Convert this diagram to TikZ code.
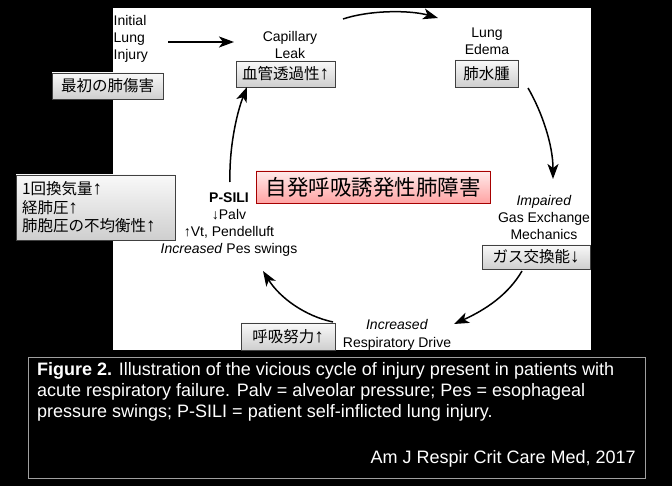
\documentclass[tikz,border=0pt]{standalone}
\usepackage{fontspec}
\setmainfont{Liberation Sans}
\newfontfamily\jp{Noto Sans CJK JP}
\usetikzlibrary{arrows.meta}

% narrow arrows set in the Latin font next to Japanese text
\newcommand\jup{{\rmfamily\fontsize{19}{19}\selectfont ↑}}
\newcommand\jdn{{\rmfamily\fontsize{19}{19}\selectfont ↓}}

\tikzset{
  lbl/.style={align=center, inner sep=0pt, font=\fontsize{14}{17}\selectfont},
  gbox/.style={draw=black!75, line width=0.7pt, top color=gray!5, bottom color=gray!38,
    inner sep=0pt, font=\jp\fontsize{15.5}{18.5}\selectfont},
  rbox/.style={draw=red!65!black, line width=0.8pt, top color=red!8, bottom color=red!36,
    inner sep=0pt, font=\jp\fontsize{21.5}{24}\selectfont},
  arr/.style={line width=1.5pt, -{Stealth[length=15pt,width=11pt,inset=4pt]}},
  capfont/.style={font=\fontsize{18}{21}\selectfont, text=white, inner sep=0pt}
}

\begin{document}
\begin{tikzpicture}[x=1pt,y=-1pt]
\useasboundingbox (0,0) rectangle (672,486);
% background and diagram panel
\fill[black] (0,0) rectangle (672,486);
\fill[white] (113,8) rectangle (591,350);

% stages of the cycle
\node[lbl, align=left, anchor=north west] (init) at (113.5,15) {Initial\\Lung\\Injury};
\node[gbox, minimum width=111pt, minimum height=26pt] (initjp) at (107.5,86) {最初の肺傷害};

\node[lbl] (leak) at (290,45) {Capillary\\Leak};
\node[gbox, minimum width=99pt, minimum height=26pt] (leakjp) at (285.5,74) {血管透過性\jup};

\node[lbl] (edema) at (487,41.5) {Lung\\Edema};
\node[gbox, minimum width=63pt, minimum height=27pt] (edemajp) at (486.5,73.5) {肺水腫};

\node[lbl] (gas) at (544,217.5) {\textit{Impaired}\\Gas Exchange\\Mechanics};
\node[gbox, minimum width=108pt, minimum height=24pt] (gasjp) at (536,257) {ガス交換能\jdn};

\node[lbl, font=\fontsize{14}{18}\selectfont] (drive) at (397,334.5) {\textit{Increased}\\Respiratory Drive};
\node[gbox, minimum width=94pt, minimum height=27pt] (drivejp) at (288,336.5) {呼吸努力\jup};

\node[lbl] (psili) at (229,225) {\textbf{P-SILI}\\↓Palv\\↑Vt, Pendelluft\\\textit{Increased} Pes swings};
\node[gbox, minimum width=159pt, minimum height=65pt, text width=147pt, align=left] (psilijp) at (95.5,207.5)
  {1回換気量\jup\\経肺圧\jup\\肺胞圧の不均衡性\jup};

\node[rbox, minimum width=234pt, minimum height=32pt] (title) at (373,187) {自発呼吸誘発性肺障害};

% arrow end points
\coordinate (a1s) at (168,42);  \coordinate (a1e) at (234,42);
\coordinate (a2s) at (343,19);  \coordinate (a2e) at (438,18);
\coordinate (a3s) at (528,88);  \coordinate (a3e) at (553,179);
\coordinate (a4s) at (522,271); \coordinate (a4e) at (454,324);
\coordinate (a5s) at (333,322); \coordinate (a5e) at (263,271);
\coordinate (a6s) at (230,182); \coordinate (a6e) at (247,87);

\draw[arr] (a1s) -- (a1e);
\draw[arr] (a2s) .. controls (370,10) and (410,10) .. (a2e);
\draw[arr] (a3s) .. controls (542,112) and (553,145) .. (a3e);
\draw[arr] (a4s) .. controls (508,295) and (485,310) .. (a4e);
\draw[arr] (a5s) .. controls (305,316) and (280,298) .. (a5e);
\draw[arr] (a6s) .. controls (229,150) and (236,115) .. (a6e);

% caption
\node[draw=gray!75, line width=0.8pt, minimum width=617pt, minimum height=121pt,
  anchor=north west, inner sep=0pt] (capbox) at (28,357) {};
\node[capfont, align=left, anchor=north west] (captext) at (37,362)
  {\textbf{Figure 2.} Illustration of the vicious cycle of injury present in patients with\\
   acute respiratory failure. Palv = alveolar pressure; Pes = esophageal\\
   pressure swings; P-SILI = patient self-inflicted lung injury.};
\node[capfont, anchor=east] (cite) at (636,459) {Am J Respir Crit Care Med, 2017};
\end{tikzpicture}
\end{document}
